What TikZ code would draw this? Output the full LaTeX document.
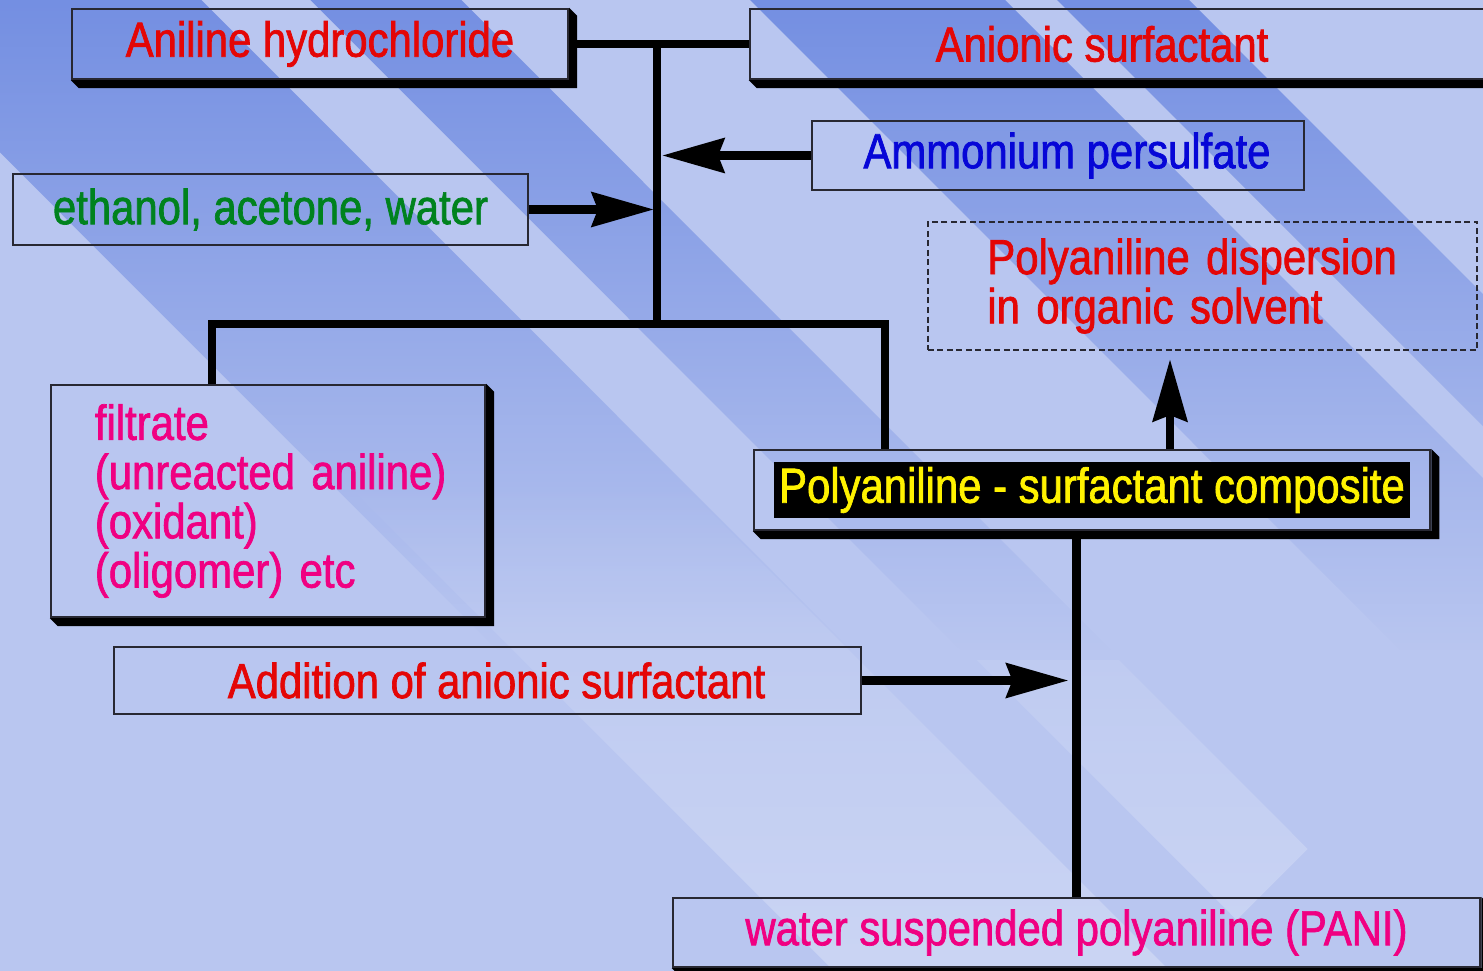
\documentclass[tikz,border=0pt]{standalone}
\usepackage{fontspec}
\setmainfont{Liberation Sans}[FakeStretch=0.85, FakeBold=1.4]
\usetikzlibrary{arrows.meta, positioning, calc, fadings}
\definecolor{pagebase}{RGB}{185,198,240}
\definecolor{banddark}{RGB}{116,143,226}
\definecolor{bandlight}{RGB}{203,213,244}
\definecolor{boxline}{RGB}{40,40,50}
\definecolor{txtred}{RGB}{228,6,6}
\definecolor{txtblue}{RGB}{6,6,215}
\definecolor{txtgreen}{RGB}{0,130,30}
\definecolor{txtpink}{RGB}{240,0,130}
\tikzfading[name=fadedown, top color=transparent!0, bottom color=transparent!100]
\tikzfading[name=fadeup, top color=transparent!100, bottom color=transparent!0]
\newcommand{\boxshadow}[1]{%
  \fill[black] (#1.south west) -- ([shift={(8,-8)}]#1.south west) -- ([shift={(8,-8)}]#1.south east)
    -- ([shift={(8,-8)}]#1.north east) -- (#1.north east) -- (#1.south east) -- cycle;}

\begin{document}
\begin{tikzpicture}[
  x=0.01cm, y=0.01cm,
  box/.style={rectangle, draw=boxline, line width=0.6pt, inner sep=0pt,
              font=\fontsize{14}{14}\selectfont, text=#1},
  conn/.style={line width=2.5pt, black},
  arr/.style={conn, -{Stealth[length=0.62cm, width=0.34cm, inset=0.06cm]}}
]
\useasboundingbox (0,0) rectangle (1483,-971);

%% Background
\fill[pagebase] (0,0) rectangle (1483,-971);
\begin{scope}
  \clip (0,0) rectangle (1483,-971);
  \fill[banddark, path fading=fadedown]
    \foreach \a/\b in {-152/202, 311/462, 751/1006, 1058/1190} {
      (\a,0) -- (\b,0) -- (\b+650,-650) -- (\a+650,-650) -- cycle };
  \fill[bandlight, path fading=fadeup]
    (343,-480) -- (679,-480) -- (1170,-971) -- (834,-971) -- cycle
    (977,-660) -- (1119,-660) -- (1308,-849) -- (1237,-920) -- cycle;
\end{scope}

%% Boxes
\node[box=txtred, minimum width=4.96cm, minimum height=0.70cm] (aniline) at (320,-44) {Aniline hydrochloride};
\node[box=txtred, minimum width=7.40cm, minimum height=0.70cm] (anionic) at (1120,-44) {\hspace*{-0.36cm}Anionic surfactant};
\node[box=txtblue, minimum width=4.92cm, minimum height=0.69cm] (persulfate) at (1058,-155.5) {\hspace*{0.18cm}Ammonium persulfate};
\node[box=txtgreen, minimum width=5.15cm, minimum height=0.71cm] (solvents) at (270.5,-209.5) {ethanol, acetone, water};
\node[box=txtred, dashed, dash pattern=on 0.06cm off 0.035cm, minimum width=5.49cm, minimum height=1.28cm,
      text width=4.3cm, align=left] (dispersion) at (1202.5,-286) {Polyaniline dispersion\\in organic solvent};
\node[box=txtpink, minimum width=4.34cm, minimum height=2.32cm, text width=3.46cm, align=left]
      (filtrate) at (268,-501) {filtrate\\\mbox{(unreacted aniline)}\\(oxidant)\\(oligomer) etc};
\node[box=black, minimum width=6.76cm, minimum height=0.80cm] (composite) at (1092,-490)
      {\fboxsep=1.4pt\colorbox{black}{\textcolor{yellow}{Polyaniline - surfactant composite}}};
\node[box=txtred, minimum width=7.47cm, minimum height=0.67cm] (addition) at (487.5,-680.5) {\hspace*{0.18cm}Addition of anionic surfactant};
\node[box=txtpink, minimum width=8.07cm, minimum height=0.69cm] (pani) at (1076.5,-932.5) {water suspended polyaniline (PANI)};

\boxshadow{aniline}
\boxshadow{anionic}
\boxshadow{filtrate}
\boxshadow{composite}
\boxshadow{pani}

%% Connectors
\coordinate (trunktop) at (657,-44);
\coordinate (junction) at (657,-324);
\draw[conn] (aniline.east) -- (anionic.west);
\draw[conn] (trunktop) -- (junction);
\draw[arr] (persulfate.west) -- ($(persulfate.west -| trunktop)+(5,0)$);
\draw[arr] (solvents.east) -- ($(solvents.east -| trunktop)+(-3,0)$);
\draw[conn] ($(filtrate.north)+(-56,0)$) |- (junction) -| ($(composite.north)+(-207,0)$);
\draw[arr] ($(composite.north)+(78,0)$) -- ($(dispersion.south)+(-32.5,-8)$);
\draw[conn] (pani.north) -- (pani.north |- composite.south);
\draw[arr] (addition.east) -- ($(addition.east -| pani.north)+(-8,0)$);
\end{tikzpicture}
\end{document}
